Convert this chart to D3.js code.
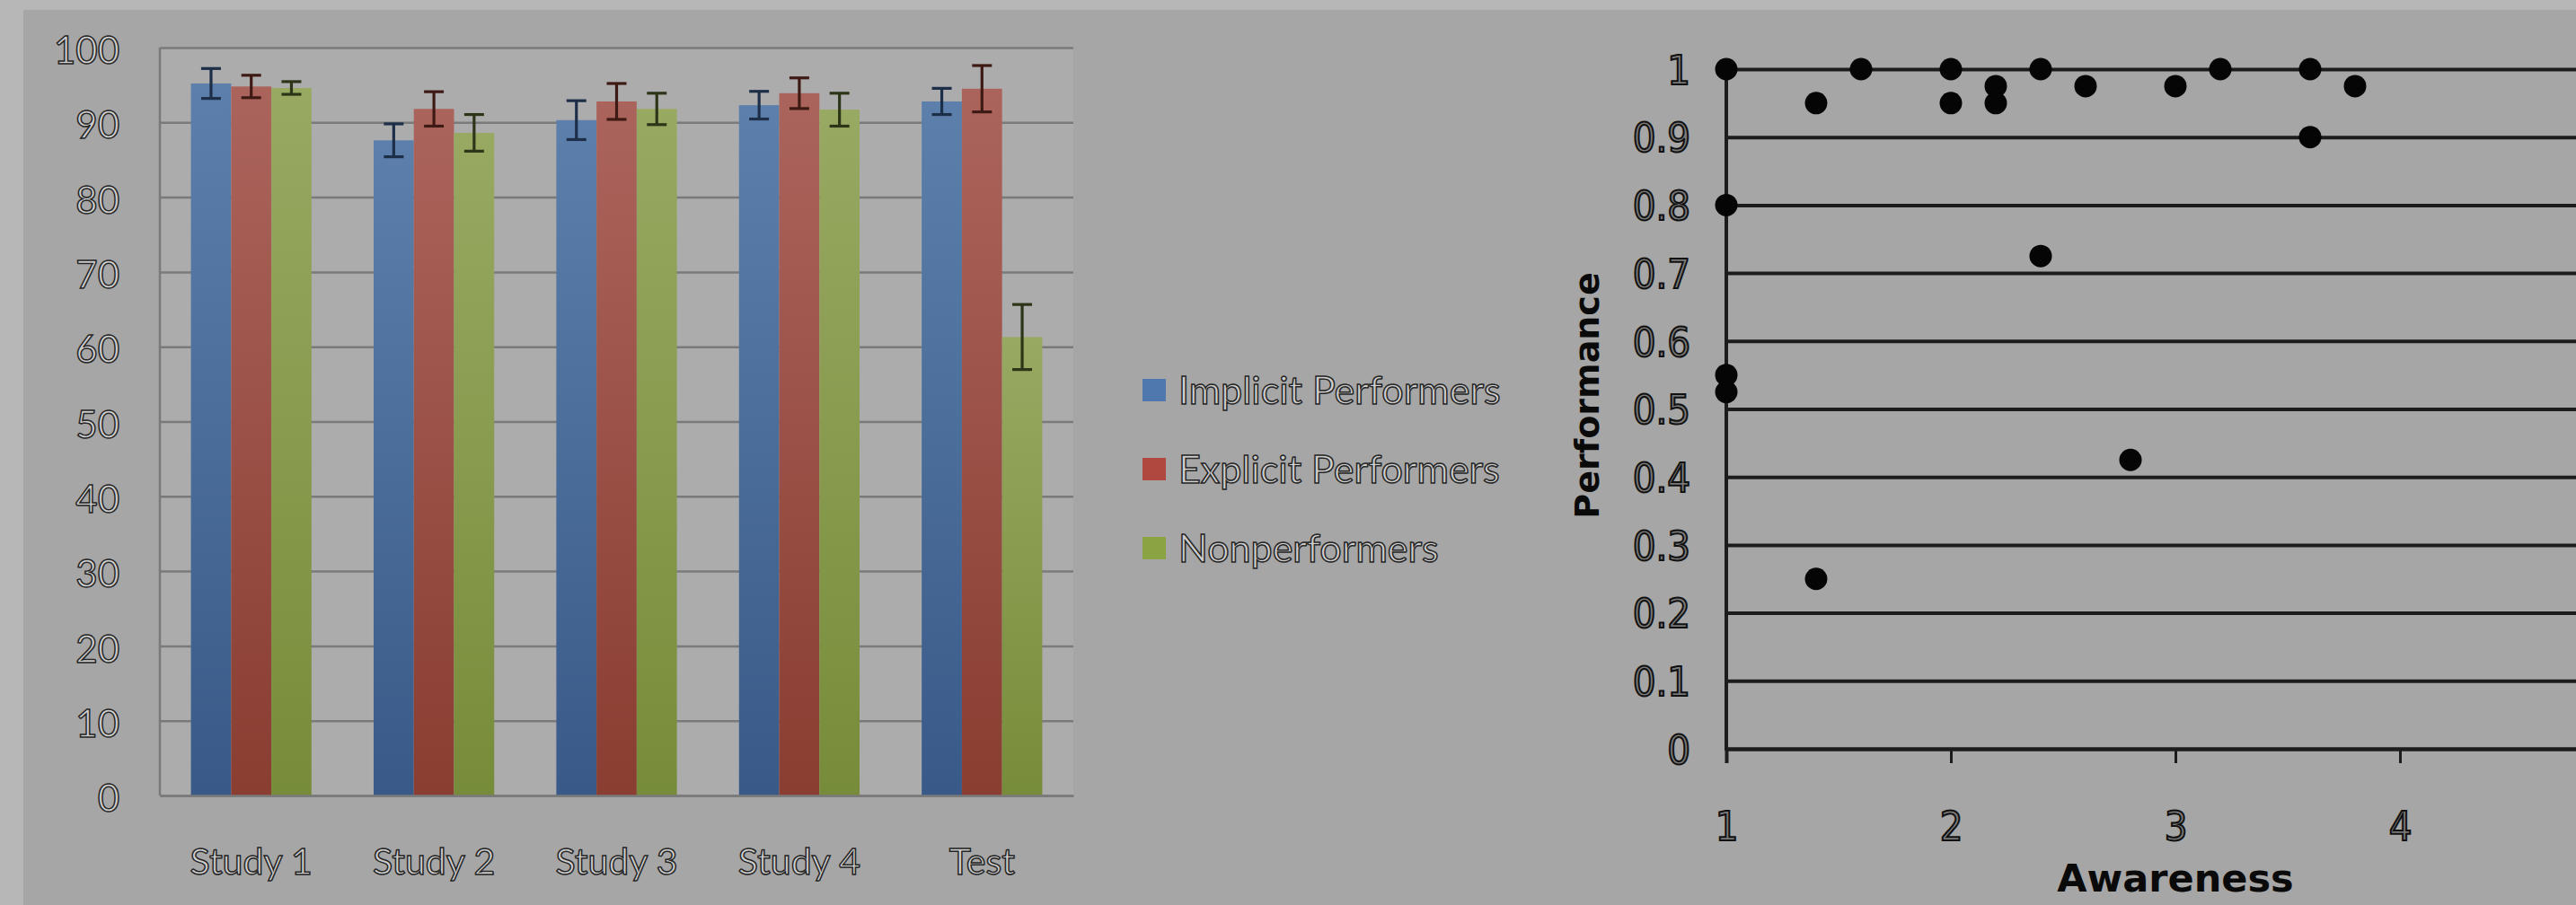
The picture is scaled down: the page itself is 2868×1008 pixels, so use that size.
<!DOCTYPE html>
<html>
<head>
<meta charset="utf-8">
<script src="https://cdn.jsdelivr.net/npm/d3@7"></script>
<style>
  html, body { margin: 0; padding: 0; background: #b6b6b6; overflow: hidden; }
  svg { display: block; }
</style>
</head>
<body>
<script>
// ---- Bar chart data: mean accuracy (%) with standard-error bars ----
const categories = ["Study 1", "Study 2", "Study 3", "Study 4", "Test"];
const seriesNames = ["Implicit Performers", "Explicit Performers", "Nonperformers"];
const implicitMeans = [95.2, 87.6, 90.3, 92.3, 92.8];
const implicitErrors = [2.0, 2.2, 2.6, 1.85, 1.75];
const explicitMeans = [94.8, 91.8, 92.8, 93.9, 94.5];
const explicitErrors = [1.5, 2.3, 2.4, 2.05, 3.1];
const nonperformerMeans = [94.6, 88.6, 91.8, 91.7, 61.3];
const nonperformerErrors = [0.85, 2.45, 2.1, 2.2, 4.35];
const barTicks = [0, 10, 20, 30, 40, 50, 60, 70, 80, 90, 100];

// ---- Scatter data: awareness rating vs. performance ----
const awareness = [1, 1.6, 1.4, 2.0, 2.0, 2.2, 2.2, 2.4, 2.6, 3.0, 3.2, 3.6, 3.6, 3.8, 1, 2.4, 1, 1, 2.8, 1.4];
const performance = [1.0, 1.0, 0.95, 1.0, 0.95, 0.975, 0.95, 1.0, 0.975, 0.975, 1.0, 1.0, 0.9, 0.975, 0.8, 0.725, 0.55, 0.525, 0.425, 0.25];
const awarenessTicks = [1, 2, 3, 4];
const performanceTicks = [0, 0.1, 0.2, 0.3, 0.4, 0.5, 0.6, 0.7, 0.8, 0.9, 1];

const W = 2868, H = 1008;
const svg = d3.select("body").append("svg").attr("width", W).attr("height", H);

// gradients for bar fills (lighter at top, darker at base)
const barColors = [
  { top: "#5c7fab", bottom: "#395a88", err: "#1d2f48", key: "#4f78ae" },
  { top: "#ab645c", bottom: "#8a3d31", err: "#3e1a14", key: "#b0483f" },
  { top: "#98a962", bottom: "#778c3a", err: "#2c3518", key: "#8aa444" }
];
const defs = svg.append("defs");
barColors.forEach((c, i) => {
  const g = defs.append("linearGradient").attr("id", "bar" + i)
    .attr("x1", 0).attr("y1", 0).attr("x2", 0).attr("y2", 1);
  g.append("stop").attr("offset", "0%").attr("stop-color", c.top);
  g.append("stop").attr("offset", "100%").attr("stop-color", c.bottom);
});

// slide panel behind both charts
svg.append("rect").attr("x", 0).attr("y", 0).attr("width", W).attr("height", H).attr("fill", "#b7b7b7");
svg.append("rect").attr("x", 26).attr("y", 11).attr("width", W - 26).attr("height", H - 11).attr("fill", "#a6a6a6");

// hollow-looking label text used by the bar chart
function hollow(sel, size) {
  sel.attr("font-family", "Lato, 'Open Sans', sans-serif")
     .attr("font-size", size)
     .attr("fill", "#cfcfcf")
     .attr("stroke", "#262626")
     .attr("stroke-width", 1.5);
}

// ================= Bar chart =================
const bx0 = 178, bx1 = 1195, by0 = 886, by1 = 53;
const xBand = d3.scaleBand().domain(categories).range([bx0, bx1]).paddingInner(0.34).paddingOuter(0.17);
const xSeries = d3.scaleBand().domain(seriesNames).range([0, xBand.bandwidth()]);
const yBar = d3.scaleLinear().domain([0, 100]).range([by0, by1]);

const barG = svg.append("g");
barG.append("rect").attr("x", bx0).attr("y", by1).attr("width", bx1 - bx0).attr("height", by0 - by1).attr("fill", "#acacac");

// gridlines + tick labels
const yAxisBar = barG.append("g").attr("transform", `translate(${bx0},0)`)
  .call(d3.axisLeft(yBar).tickValues(barTicks).tickSize(-(bx1 - bx0)).tickPadding(45));
yAxisBar.select(".domain").remove();
yAxisBar.selectAll(".tick line").attr("stroke", "#7a7a7a").attr("stroke-width", 2.5);
yAxisBar.selectAll(".tick text").call(hollow, 42).attr("dy", "0.42em");
barG.append("line").attr("x1", bx0).attr("x2", bx0).attr("y1", by1).attr("y2", by0)
  .attr("stroke", "#7a7a7a").attr("stroke-width", 2.5);

const seriesData = [
  { means: implicitMeans, errs: implicitErrors },
  { means: explicitMeans, errs: explicitErrors },
  { means: nonperformerMeans, errs: nonperformerErrors }
];

seriesData.forEach((s, si) => {
  const name = seriesNames[si];
  const g = barG.append("g");
  g.selectAll("rect").data(categories).join("rect")
    .attr("x", c => xBand(c) + xSeries(name))
    .attr("y", (c, i) => yBar(s.means[i]))
    .attr("width", xSeries.bandwidth())
    .attr("height", (c, i) => yBar(0) - yBar(s.means[i]))
    .attr("fill", `url(#bar${si})`);
});

// error bars drawn over all bars
seriesData.forEach((s, si) => {
  const name = seriesNames[si];
  const eg = barG.append("g").attr("stroke", barColors[si].err).attr("stroke-width", 3.2);
  categories.forEach((c, i) => {
    const cx = xBand(c) + xSeries(name) + xSeries.bandwidth() / 2;
    const hi = yBar(s.means[i] + s.errs[i]), lo = yBar(s.means[i] - s.errs[i]);
    eg.append("line").attr("x1", cx).attr("x2", cx).attr("y1", hi).attr("y2", lo);
    eg.append("line").attr("x1", cx - 11).attr("x2", cx + 11).attr("y1", hi).attr("y2", hi);
    eg.append("line").attr("x1", cx - 11).attr("x2", cx + 11).attr("y1", lo).attr("y2", lo);
  });
});

// category axis
const xAxisBar = barG.append("g").attr("transform", `translate(0,${by0})`)
  .call(d3.axisBottom(xBand).tickSize(0).tickPadding(0));
xAxisBar.select(".domain").attr("stroke", "#7a7a7a").attr("stroke-width", 2.5);
xAxisBar.selectAll(".tick text").call(hollow, 41).attr("y", 88).attr("dy", 0);

// legend
const legend = svg.append("g");
seriesNames.forEach((n, i) => {
  const cy = 435 + i * 88;
  legend.append("rect").attr("x", 1272).attr("y", cy - 13).attr("width", 26).attr("height", 25)
    .attr("fill", barColors[i].key);
  legend.append("text").attr("x", 1312).attr("y", cy).attr("dy", "0.36em").text(n).call(hollow, 43);
});

// ================= Scatter plot =================
const sx0 = 1922, sx1 = 2922, sy0 = 834, sy1 = 77;
const xs = d3.scaleLinear().domain([1, 5]).range([sx0, sx1]);
const ys = d3.scaleLinear().domain([0, 1]).range([sy0, sy1]);
const sg = svg.append("g");

const darkText = sel => sel.attr("font-family", "'DejaVu Sans', sans-serif")
  .attr("font-stretch", "condensed")
  .attr("font-size", 45).attr("fill", "#7a7a7a").attr("stroke", "#111").attr("stroke-width", 2);

const yAxisS = sg.append("g").attr("transform", `translate(${sx0},0)`)
  .call(d3.axisLeft(ys).tickValues(performanceTicks).tickSize(-(sx1 - sx0)).tickPadding(40)
    .tickFormat(d3.format("~g")));
yAxisS.select(".domain").remove();
yAxisS.selectAll(".tick line").attr("stroke", "#1c1c1c").attr("stroke-width", 4);
yAxisS.selectAll(".tick text").call(darkText).attr("dy", "0.36em");

const xAxisS = sg.append("g").attr("transform", `translate(0,${sy0})`)
  .call(d3.axisBottom(xs).tickValues(awarenessTicks).tickSize(16).tickFormat(d3.format("d")));
xAxisS.select(".domain").attr("stroke", "#1c1c1c").attr("stroke-width", 4);
xAxisS.selectAll(".tick line").attr("stroke", "#1c1c1c").attr("stroke-width", 3);
xAxisS.selectAll(".tick text").call(darkText).attr("y", 86).attr("dy", "0.36em");

sg.append("line").attr("x1", sx0).attr("x2", sx0).attr("y1", sy1).attr("y2", sy0 + 2)
  .attr("stroke", "#1c1c1c").attr("stroke-width", 4);

sg.append("g").selectAll("circle").data(awareness).join("circle")
  .attr("cx", (d, i) => xs(d))
  .attr("cy", (d, i) => ys(performance[i]))
  .attr("r", 12.5)
  .attr("fill", "#050505");

// axis titles
sg.append("text").attr("x", (sx0 + sx1) / 2).attr("y", 993).attr("text-anchor", "middle")
  .attr("font-family", "'DejaVu Sans', sans-serif").attr("font-weight", "bold").attr("font-size", 43)
  .attr("fill", "#0a0a0a").text("Awareness");
sg.append("text").attr("transform", `translate(1780,${(sy0 + sy1) / 2 - 15}) rotate(-90)`)
  .attr("text-anchor", "middle")
  .attr("font-family", "'DejaVu Sans', sans-serif").attr("font-weight", "bold").attr("font-size", 38)
  .attr("fill", "#0a0a0a").text("Performance");
</script>
</body>
</html>
